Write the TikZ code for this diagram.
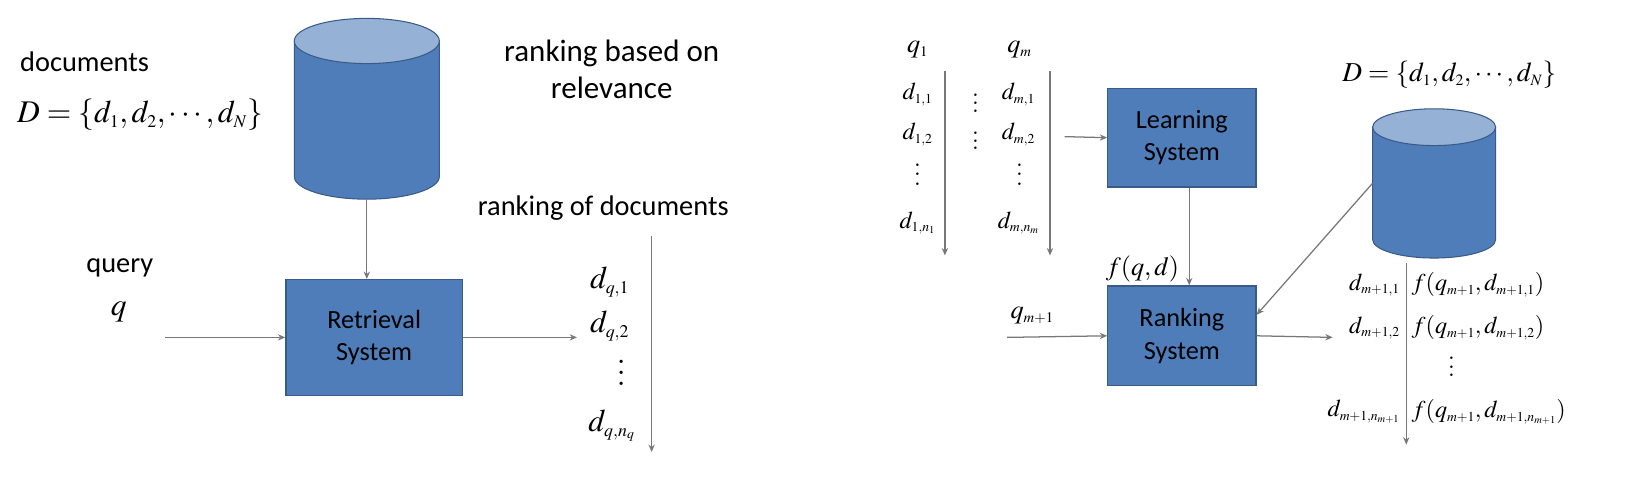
\documentclass[tikz,border=0pt]{standalone}
\usepackage{mathptmx}
\usepackage[no-math]{fontspec}
\setmainfont{Carlito}
\usetikzlibrary{arrows.meta}
\DeclareMathSizes{30}{30}{17}{13}
\DeclareMathSizes{26}{26}{15}{11}
\DeclareMathSizes{25}{25}{14}{10}
\DeclareMathSizes{23}{23}{13}{10}
\definecolor{bluefill}{RGB}{79,125,185}
\definecolor{bluetop}{RGB}{149,178,214}
\definecolor{blueedge}{RGB}{58,90,135}
\definecolor{arrgray}{RGB}{120,120,120}
\newcommand{\vd}[1]{\vbox{\offinterlineskip\hbox{$.$}\kern#1\hbox{$.$}\kern#1\hbox{$.$}}}
\tikzset{
  lbl/.style={inner sep=0pt, font=\fontsize{27}{33}\selectfont, align=center},
  mbig/.style={inner sep=0pt, font=\fontsize{30}{36}\selectfont},
  msmall/.style={inner sep=0pt, font=\fontsize{23}{27}\selectfont},
  sysbox/.style={draw=blueedge, line width=1.2pt, fill=bluefill, align=center,
    font=\fontsize{25}{31}\selectfont, inner sep=0pt},
  arr/.style={draw=arrgray, line width=1.2pt, -{Stealth[length=7pt,width=6pt]}},
  cylbody/.style={fill=bluefill, draw=blueedge, line width=1pt},
  cyltop/.style={fill=bluetop, draw=blueedge, line width=1pt},
}
\begin{document}
\begin{tikzpicture}[x=1pt, y=-1pt]
\useasboundingbox (0,0) rectangle (1568,461);
% ---------------- left diagram ----------------
\path[cylbody] (280,39) -- (280,168) arc[start angle=180, end angle=360, x radius=69pt, y radius=21.5pt] -- (418,39) -- cycle;
\path[cyltop] (349,39) ellipse [x radius=69pt, y radius=21.5pt];
\node[inner sep=0pt, minimum width=138pt, minimum height=172pt] (db1) at (349,103.5) {};
\node[lbl, anchor=base west] (docs) at (19,68) {documents};
\node[mbig, anchor=west] (Dset) at (16,109) {$D=\{d_1,d_2,\cdots,d_N\}$};
\node[lbl, font=\fontsize{29.5}{36}\selectfont] (rbor) at (582,66) {ranking based on\\relevance};
\node[lbl] (rod) at (574,198) {ranking of documents};
\node[lbl] (query) at (114,255) {query};
\node[mbig] (qq) at (113,297) {$q$};
\node[sysbox, minimum width=168pt, minimum height=110pt] (ret) at (356,321) {Retrieval\\System};
\coordinate (qin) at (157,321);
\coordinate (rout) at (549,321);
\draw[arr] (db1.south) -- (db1.south |- ret.north);
\draw[arr] (qin) -- (ret.west);
\draw[arr] (ret.east) -- (rout);
\coordinate (rl1) at (620,225);
\coordinate (rl2) at (620,430);
\draw[arr] (rl1) -- (rl2);
\node[mbig] (dq1) at (580,268) {$d_{q,1}$};
\node[mbig] (dq2) at (580,310) {$d_{q,2}$};
\node[mbig] (dqv) at (591,355) {\vd{7.5pt}};
\node[mbig] (dqn) at (582,405) {$d_{q,n_q}$};
% ---------------- right diagram ----------------
\node[msmall, font=\fontsize{25}{30}\selectfont] (q1) at (873,47) {$q_1$};
\node[msmall, font=\fontsize{25}{30}\selectfont] (qm) at (970,47) {$q_m$};
\coordinate (l1a) at (899,68); \coordinate (l1b) at (899,243);
\coordinate (l2a) at (999,68); \coordinate (l2b) at (999,243);
\draw[arr] (l1a) -- (l1b);
\draw[arr] (l2a) -- (l2b);
\node[msmall] (d11) at (873,90) {$d_{1,1}$};
\node[msmall] (d12) at (873,128) {$d_{1,2}$};
\node[msmall] (d1v) at (873,166) {\vd{6.5pt}};
\node[msmall] (d1n) at (873,212) {$d_{1,n_1}$};
\node[msmall] (mv1) at (928,98) {\vd{5pt}};
\node[msmall] (mv2) at (928,134) {\vd{5pt}};
\node[msmall] (dm1) at (969,90) {$d_{m,1}$};
\node[msmall] (dm2) at (969,128) {$d_{m,2}$};
\node[msmall] (dmv) at (970,166) {\vd{6.5pt}};
\node[msmall] (dmn) at (969,212) {$d_{m,n_m}$};
\node[sysbox, minimum width=141pt, minimum height=94pt] (learn) at (1124.5,131) {Learning\\System};
\node[sysbox, minimum width=141pt, minimum height=95pt] (rank) at (1124.5,319.5) {Ranking\\System};
\coordinate (lin) at (1013,130);
\draw[arr] (lin) -- (learn.west);
\draw[arr] ([xshift=7pt]learn.south) -- ([xshift=7pt]rank.north);
\node[msmall, font=\fontsize{25}{30}\selectfont] (fqd) at (1087,256) {$f(q,d)$};
\node[msmall, font=\fontsize{25}{30}\selectfont] (qm1) at (982,300) {$q_{m+1}$};
\coordinate (qmin) at (958,321);
\draw[arr] (qmin) -- (rank.west);
\coordinate (rankout) at (1268,321);
\draw[arr] (rank.east) -- (rankout);
% right cylinder
\path[cylbody] (1306,121) -- (1306,228) arc[start angle=180, end angle=360, x radius=58.5pt, y radius=17.5pt] -- (1423,121) -- cycle;
\path[cyltop] (1364.5,121) ellipse [x radius=58.5pt, y radius=17.5pt];
\node[inner sep=0pt, minimum width=117pt, minimum height=142pt] (db2) at (1364.5,174.5) {};
\node[msmall, font=\fontsize{26}{30}\selectfont] (Dset2) at (1379,71) {$D=\{d_1,d_2,\cdots,d_N\}$};
\draw[arr] (db2.west) -- ([yshift=20pt]rank.east);
\coordinate (vr1) at (1338,250);
\coordinate (vr2) at (1338,423);
\draw[arr] (vr1) -- (vr2);
\node[msmall, anchor=east] (e1) at (1332,271) {$d_{m+1,1}$};
\node[msmall, anchor=west] (f1) at (1343,271) {$f(q_{m+1},d_{m+1,1})$};
\node[msmall, anchor=east] (e2) at (1332,312) {$d_{m+1,2}$};
\node[msmall, anchor=west] (f2) at (1343,312) {$f(q_{m+1},d_{m+1,2})$};
\node[msmall] (fv) at (1381,349) {\vd{6pt}};
\node[msmall, anchor=east] (e4) at (1332,392) {$d_{m+1,n_{m+1}}$};
\node[msmall, anchor=west] (f4) at (1343,392) {$f(q_{m+1},d_{m+1,n_{m+1}})$};
\end{tikzpicture}
\end{document}
